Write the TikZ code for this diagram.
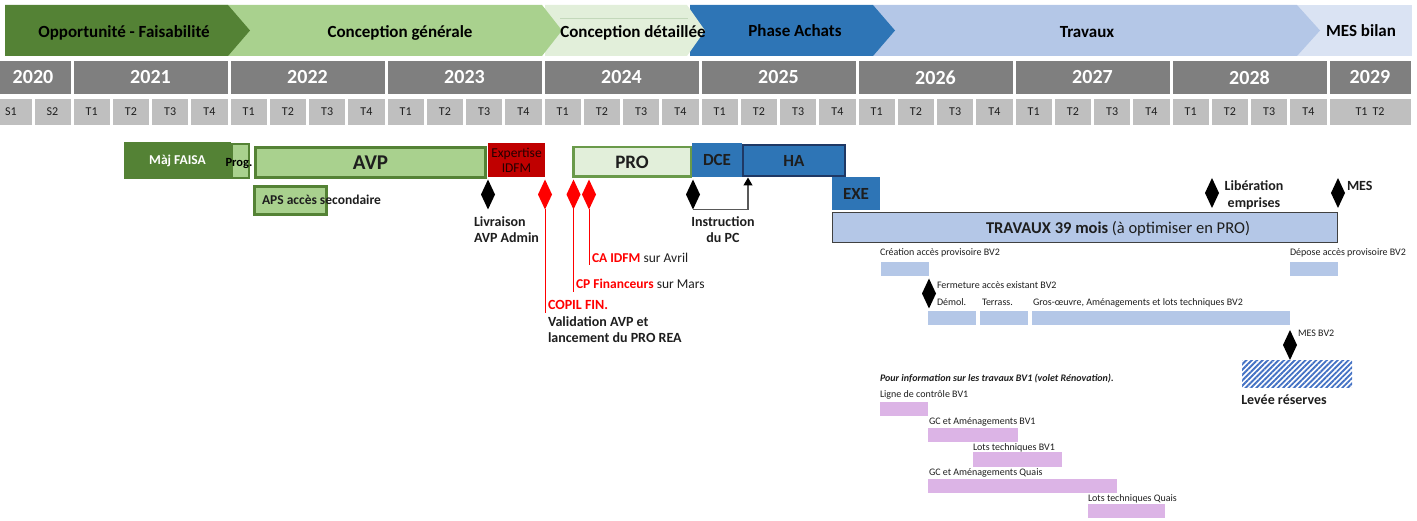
\documentclass[tikz,border=0pt]{standalone}
\usepackage{fontspec}
\setmainfont{Carlito}
\usetikzlibrary{shapes.geometric,patterns.meta,arrows.meta}

\definecolor{gdark}{HTML}{548235}
\definecolor{glight}{HTML}{A9D18E}
\definecolor{gpale}{HTML}{E2EFDA}
\definecolor{gline}{HTML}{C3D8BA}
\definecolor{gborder}{HTML}{6A9A4A}
\definecolor{bmid}{HTML}{2E75B6}
\definecolor{blight}{HTML}{B4C7E7}
\definecolor{bpale}{HTML}{DAE3F3}
\definecolor{bnavy}{HTML}{1F3864}
\definecolor{redbox}{HTML}{C00000}
\definecolor{redtxt}{HTML}{240000}
\definecolor{yeargrey}{HTML}{7F7F7F}
\definecolor{qgrey}{HTML}{BFBFBF}
\definecolor{lilac}{HTML}{DCB4E6}
\definecolor{hatchblue}{HTML}{4472C4}
\definecolor{ink}{HTML}{1E1E1E}
\definecolor{arrowgrey}{HTML}{595959}
\definecolor{framegrey}{HTML}{404040}

% chevron of the phase band: colour, left edge, end of body, tip
\newcommand\phasechevron[4]{\fill[#1] (#2,5) -- (#3,5) -- (#4,30.5) -- (#3,56) -- (#2,56) -- cycle;}

\begin{document}
\begin{tikzpicture}[x=1pt,y=-1pt,
  every node/.style={inner sep=0pt,outer sep=0pt},
  phasetxt/.style={anchor=base,text=black,font=\fontsize{17}{20}\selectfont\bfseries},
  yearcell/.style={fill=yeargrey,text=white,minimum height=33,font=\fontsize{20}{22}\selectfont\bfseries},
  qcell/.style={fill=qgrey,text=ink,minimum height=26,font=\fontsize{12}{14}\selectfont},
  taskbox/.style={anchor=north west,text=ink,font=\fontsize{17}{19}\selectfont\bfseries},
  milestone/.style={diamond,fill=black,minimum width=14,minimum height=30},
  redms/.style={milestone,fill=red},
  note/.style={anchor=base west,text=ink,font=\fontsize{14}{16}\selectfont\bfseries},
  tiny/.style={anchor=base west,text=ink,font=\fontsize{10}{12}\selectfont},
  subbar/.style={anchor=north west,fill=blight,minimum height=14},
  bvbar/.style={anchor=north west,fill=lilac,minimum height=14}]
\useasboundingbox (0,0) rectangle (1417,521);

% ---------- phase band ----------
\fill[bpale] (1297,5) rectangle (1412,56);
\phasechevron{blight}{873}{1297}{1320}
\phasechevron{bmid}{690}{873}{895}
\phasechevron{gpale}{545}{687}{705}
\draw[gline,line width=0.8pt] (560,18.5) -- (688,18.5);
\phasechevron{glight}{100}{542}{562}
\phasechevron{gdark}{5}{228}{250}

\node[phasetxt] (ph1) at (124,37.5) {Opportunité - Faisabilité};
\node[phasetxt] (ph2) at (400,37.5) {Conception générale};
\node[phasetxt] (ph3) at (633,37.5) {Conception détaillée};
\node[phasetxt] (ph4) at (795,36.5) {Phase Achats};
\node[phasetxt] (ph5) at (1087,37.5) {Travaux};
\node[phasetxt] (ph6) at (1361,36.5) {MES bilan};

% ---------- years ----------
\foreach \l/\r/\t in {-6/72/2020,72/229/2021,229/386/2022,386/543/2023,543/700/2024,
                      700/857/2025,857/1014/2026,1014/1171/2027,1171/1328/2028,1328/1412/2029}
  \node[yearcell,minimum width={\r-\l-3}] (y\t) at ({(\l+\r)/2},77.5) {\t};

% ---------- semesters / quarters ----------
\node[qcell,minimum width=41] (s1) at (11,112) {S1};
\node[qcell,minimum width=36] (s2) at (52.5,112) {S2};
\foreach \i in {0,...,7}{
  \foreach \q in {1,...,4}{
    \pgfmathsetmacro\qx{72+\i*157+(\q-0.5)*39.25}
    \pgfmathtruncatemacro\yr{2021+\i}
    \node[qcell,minimum width=36.25] (q\yr\q) at (\qx,112) {T\q};
  }
}
\node[qcell,minimum width=81] (q2029) at (1370,112) {T1\hspace{5pt}T2};

% ---------- study tasks ----------
\node[taskbox,fill=gdark,text=white,minimum width=107,minimum height=37,
      font=\fontsize{13.5}{15}\selectfont\bfseries] (faisa) at (124,142) {Màj FAISA};
\node[taskbox,fill=glight,draw=gdark,line width=2pt,minimum width=17,minimum height=34] (prog) at (232,144) {};
\node[text=black,font=\fontsize{12.5}{14}\selectfont\bfseries,anchor=base] (progtxt) at (239,167) {Prog.};
\node[taskbox,fill=glight,draw=gdark,line width=3pt,minimum width=230,minimum height=30,
      font=\fontsize{21}{23}\selectfont\bfseries] (avp) at (255.5,147.5) {AVP};
\node[taskbox,fill=redbox,text=redtxt,minimum width=57,minimum height=34,align=center,
      font=\fontsize{13.5}{15}\selectfont] (idfm) at (488,143) {Expertise\\IDFM};
\node[taskbox,fill=glight,draw=gdark,line width=2.5pt,minimum width=72,minimum height=28] (aps) at (254.5,186.5) {};
\node[note,font=\fontsize{13.5}{15}\selectfont\bfseries] (apstxt) at (262,205) {APS accès secondaire};
\node[taskbox,fill=gpale,draw=gborder,line width=2.5pt,minimum width=117.5,minimum height=29.5,
      font=\fontsize{19}{21}\selectfont\bfseries] (pro) at (573.25,147.25) {PRO};
\node[taskbox,fill=bmid,minimum width=50,minimum height=34] (dce) at (692,143) {DCE};
\node[taskbox,fill=bmid,draw=bnavy,line width=2pt,minimum width=102,minimum height=31] (ha) at (743,145) {HA\hspace{10pt}};
\node[taskbox,fill=bmid,minimum width=48,minimum height=33] (exe) at (832,177) {EXE};

% ---------- works ----------
\node[taskbox,fill=blight,draw=framegrey,line width=1pt,minimum width=505,minimum height=30] (trav) at (832.5,212.5) {};
\node[anchor=base,text=ink,font=\fontsize{16.5}{19}\selectfont] (travtxt) at (1118,233.5)
  {\textbf{TRAVAUX 39 mois} (à optimiser en PRO)};

% ---------- milestones ----------
\node[milestone] (mavp) at (488,194.5) {};
\node[redms] (mcopil) at (545,194.5) {};
\node[redms] (mcp) at (573.5,194.5) {};
\node[redms] (mca) at (589,194.5) {};
\node[milestone] (mpc) at (693,194.5) {};
\node[milestone] (mlib) at (1212,193) {};
\node[milestone] (mmes) at (1338,193) {};

\node[note] (livr1) at (474,226.5) {Livraison};
\node[note] (livr2) at (474,242.5) {AVP Admin};

\node[note] (copil1) at (548,309.5) {\color{red}COPIL FIN.};
\node[note] (copil2) at (548,326.5) {Validation AVP et};
\node[note] (copil3) at (548,342.5) {lancement du PRO REA};
\node[note,font=\fontsize{13.5}{15}\selectfont] (cptxt) at (576,288.5) {\textbf{\color{red}CP Financeurs} sur Mars};
\node[note,font=\fontsize{13.5}{15}\selectfont] (catxt) at (592,262.5) {\textbf{\color{red}CA IDFM} sur Avril};
\coordinate (copilend) at (545,313);
\coordinate (cpend) at (573.5,292);
\coordinate (caend) at (589,265);
\draw[red,line width=1pt] (mcopil.south) -- (copilend);
\draw[red,line width=1pt] (mcp.south) -- (cpend);
\draw[red,line width=1pt] (mca.south) -- (caend);

\coordinate (pcend) at (748,177.5);
\draw[arrowgrey,line width=1.2pt,-{Triangle[length=8pt,width=9pt,color=black]}] (mpc.south) -| (pcend);
\node[note,anchor=base] (instr1) at (723,226.5) {Instruction};
\node[note,anchor=base] (instr2) at (723,242.5) {du PC};

\node[note,anchor=base] (lib1) at (1254,190.5) {Libération};
\node[note,anchor=base] (lib2) at (1254,207.5) {emprises};
\node[note] (mestxt) at (1347,190.5) {MES};

% ---------- BV2 works ----------
\node[tiny] (creatxt) at (880,256) {Création accès provisoire BV2};
\node[subbar,minimum width=48] (crea) at (881,262) {};
\node[tiny] (depotxt) at (1290,256) {Dépose accès provisoire BV2};
\node[subbar,minimum width=48] (depo) at (1290,262) {};
\node[milestone] (mferm) at (929,293.5) {};
\node[tiny] (fermtxt) at (937,288.5) {Fermeture accès existant BV2};
\node[tiny] (demtxt) at (937,305.5) {Démol.};
\node[subbar,minimum width=48] (demol) at (928,311) {};
\node[tiny] (tertxt) at (982,305.5) {Terrass.};
\node[subbar,minimum width=48] (terr) at (980,311) {};
\node[tiny] (grostxt) at (1033,305.5) {Gros-œuvre, Aménagements et lots techniques BV2};
\node[subbar,minimum width=258] (gros) at (1032,311) {};
\node[milestone] (mbv2) at (1290,345) {};
\node[tiny] (mbv2txt) at (1298,336.5) {MES BV2};
\node[anchor=north west,minimum width=110,minimum height=27,
      pattern={Lines[angle=45,distance=3.8pt,line width=1.9pt]},pattern color=hatchblue] (levee) at (1242,361) {};
\node[note,anchor=base] (leveetxt) at (1284,404.5) {Levée réserves};

% ---------- BV1 works ----------
\node[tiny,font=\fontsize{10}{12}\selectfont\bfseries\itshape] (bv1title) at (880,381.5)
  {Pour information sur les travaux BV1 (volet Rénovation).};
\node[tiny] (lignetxt) at (880,397.5) {Ligne de contrôle BV1};
\node[bvbar,minimum width=48] (ligne) at (880,402) {};
\node[tiny] (gcbv1txt) at (929,424.5) {GC et Aménagements BV1};
\node[bvbar,minimum width=90] (gcbv1) at (928,428) {};
\node[tiny] (ltbv1txt) at (973,450.5) {Lots techniques BV1};
\node[bvbar,minimum width=89,minimum height=15] (ltbv1) at (973,452) {};
\node[tiny] (gcqtxt) at (929,475.5) {GC et Aménagements Quais};
\node[bvbar,minimum width=189] (gcq) at (928,479) {};
\node[tiny] (ltqtxt) at (1088,501.5) {Lots techniques Quais};
\node[bvbar,minimum width=77] (ltq) at (1088,504) {};
\end{tikzpicture}
\end{document}
